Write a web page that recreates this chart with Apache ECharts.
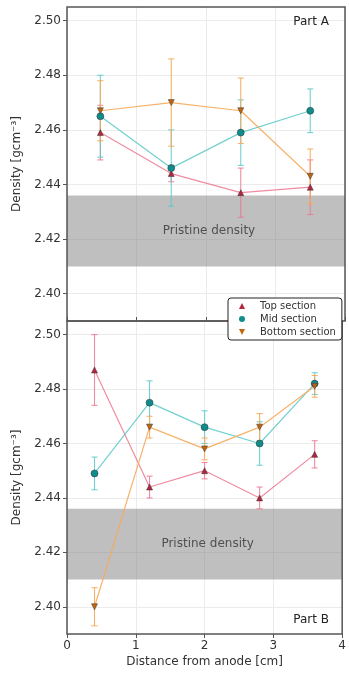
<!DOCTYPE html>
<html>
<head>
<meta charset="utf-8">
<script src="https://cdn.jsdelivr.net/npm/echarts@6/dist/echarts.min.js"></script>
<style>
  html, body { margin: 0; padding: 0; background: #fff; }
  #chart { width: 349px; height: 675px; }
</style>
</head>
<body>
<div id="chart"></div>
<script>
// Part A (top panel)
var partAX = [0.48, 1.5, 2.5, 3.5]
var partATop = [2.459, 2.444, 2.437, 2.439]
var partATopErr = [0.010, 0.003, 0.009, 0.010]
var partAMid = [2.465, 2.446, 2.459, 2.467]
var partAMidErr = [0.015, 0.014, 0.012, 0.008]
var partABot = [2.467, 2.470, 2.467, 2.443]
var partABotErr = [0.011, 0.016, 0.012, 0.010]

// Part B (bottom panel)
var partBX = [0.4, 1.2, 2.0, 2.8, 3.6]
var partBTop = [2.487, 2.444, 2.450, 2.440, 2.456]
var partBTopErr = [0.013, 0.004, 0.003, 0.004, 0.005]
var partBMid = [2.449, 2.475, 2.466, 2.460, 2.482]
var partBMidErr = [0.006, 0.008, 0.006, 0.008, 0.004]
var partBBot = [2.400, 2.466, 2.458, 2.466, 2.481]
var partBBotErr = [0.007, 0.004, 0.004, 0.005, 0.004]

var pristineBand = [2.410, 2.436]
var yTicks = [2.40, 2.42, 2.44, 2.46, 2.48, 2.50]

var FONT = 'DejaVu Sans'
var sections = [
  { name: 'Top section', marker: '#b3263f', line: 'rgba(236,120,145,0.85)', symbol: 'triangle', rotate: 0 },
  { name: 'Mid section', marker: '#0f8c8c', line: 'rgba(90,200,200,0.85)', symbol: 'circle', rotate: 0 },
  { name: 'Bottom section', marker: '#c2650f', line: 'rgba(246,170,90,0.9)', symbol: 'triangle', rotate: 180 }
]

function pairs(xs, ys) {
  return xs.map(function(x, i) { return [x, ys[i]] })
}
function errPairs(xs, ys, es) {
  return xs.map(function(x, i) { return [x, ys[i] - es[i], ys[i] + es[i]] })
}

function errorSeries(idx, sec, data) {
  return {
    type: 'custom',
    xAxisIndex: idx,
    yAxisIndex: idx,
    z: 2,
    silent: true,
    encode: { x: 0, y: [1, 2] },
    data: data,
    renderItem: function(params, api) {
      var x = api.value(0)
      var lo = api.coord([x, api.value(1)])
      var hi = api.coord([x, api.value(2)])
      var w = 3
      var st = { stroke: sec.line, lineWidth: 1.1 }
      return {
        type: 'group',
        children: [
          { type: 'line', shape: { x1: lo[0], y1: lo[1], x2: hi[0], y2: hi[1] }, style: st },
          { type: 'line', shape: { x1: lo[0] - w, y1: lo[1], x2: lo[0] + w, y2: lo[1] }, style: st },
          { type: 'line', shape: { x1: hi[0] - w, y1: hi[1], x2: hi[0] + w, y2: hi[1] }, style: st }
        ]
      }
    }
  }
}

function lineSeries(idx, sec, data, band) {
  var s = {
    name: sec.name,
    type: 'line',
    xAxisIndex: idx,
    yAxisIndex: idx,
    z: 3,
    data: data,
    symbol: sec.symbol,
    symbolRotate: sec.rotate,
    symbolSize: sec.symbol === 'circle' ? 7 : 6,
    showAllSymbol: true,
    lineStyle: { color: sec.line, width: 1.2 },
    itemStyle: { color: sec.marker, borderColor: '#333', borderWidth: 0.5 }
  }
  if (band) {
    s.markArea = {
      silent: true,
      itemStyle: { color: 'rgba(128,128,128,0.5)' },
      label: {
        show: true,
        position: 'inside',
        color: '#505050',
        fontFamily: FONT,
        fontSize: 12,
        offset: [3, 0]
      },
      data: [[{ yAxis: pristineBand[0], name: 'Pristine density' }, { yAxis: pristineBand[1] }]]
    }
  }
  return s
}

var series = []
var partA = [
  [partATop, partATopErr], [partAMid, partAMidErr], [partABot, partABotErr]
]
var partB = [
  [partBTop, partBTopErr], [partBMid, partBMidErr], [partBBot, partBBotErr]
]
partA.forEach(function(d, i) {
  series.push(errorSeries(0, sections[i], errPairs(partAX, d[0], d[1])))
})
partB.forEach(function(d, i) {
  series.push(errorSeries(1, sections[i], errPairs(partBX, d[0], d[1])))
})
partA.forEach(function(d, i) {
  series.push(lineSeries(0, sections[i], pairs(partAX, d[0]), i === 0))
})
partB.forEach(function(d, i) {
  series.push(lineSeries(1, sections[i], pairs(partBX, d[0]), i === 0))
})

function yAxisOpt(idx) {
  return {
    type: 'value',
    gridIndex: idx,
    min: 2.39,
    max: 2.505,
    name: 'Density [gcm⁻³]',
    nameLocation: 'middle',
    nameGap: 44,
    nameTextStyle: { fontFamily: FONT, fontSize: 12, color: '#333' },
    axisLine: { show: false },
    axisTick: { show: true, length: 4, customValues: yTicks, lineStyle: { color: '#555' } },
    axisLabel: {
      customValues: yTicks,
      fontFamily: FONT, fontSize: 12, color: '#333', margin: 6,
      formatter: function(v) { return v.toFixed(2) }
    },
    splitLine: { show: true, lineStyle: { color: '#ebebeb', width: 1 } }
  }
}

function xAxisOpt(idx) {
  var bottom = idx === 1
  return {
    type: 'value',
    gridIndex: idx,
    min: 0,
    max: 4,
    interval: 1,
    name: bottom ? 'Distance from anode [cm]' : '',
    nameLocation: 'middle',
    nameGap: 22,
    nameTextStyle: { fontFamily: FONT, fontSize: 12, color: '#333' },
    axisLine: { show: false },
    axisTick: { show: true, length: 4, inside: !bottom, lineStyle: { color: '#555' } },
    axisLabel: {
      show: bottom,
      fontFamily: FONT, fontSize: 12, color: '#333', margin: 6
    },
    splitLine: { show: true, lineStyle: { color: '#ebebeb', width: 1 } }
  }
}

var myChart = echarts.init(document.getElementById('chart'))
var option = {
  animation: false,
  backgroundColor: '#fff',
  grid: [
    { left: 67, right: 4, top: 7, height: 314, show: true, borderColor: '#555', borderWidth: 1.5, backgroundColor: 'transparent', z: 5 },
    { left: 67, right: 4, top: 321, height: 313, show: true, borderColor: '#555', borderWidth: 1.5, backgroundColor: 'transparent', z: 5 }
  ],
  xAxis: [xAxisOpt(0), xAxisOpt(1)],
  yAxis: [yAxisOpt(0), yAxisOpt(1)],
  legend: {
    left: 228,
    top: 298,
    orient: 'vertical',
    z: 10,
    itemWidth: 6,
    itemHeight: 6,
    itemGap: 3,
    padding: [3, 6, 3, 11],
    backgroundColor: '#fff',
    borderColor: '#222',
    borderWidth: 1,
    borderRadius: 3,
    itemStyle: { borderWidth: 0 },
    textStyle: { fontFamily: FONT, fontSize: 10, color: '#333', padding: [0, 0, 0, 10] },
    data: [
      { name: 'Top section', icon: 'triangle' },
      { name: 'Mid section', icon: 'circle' },
      { name: 'Bottom section', icon: 'path://M0,0 L10,0 L5,10 Z' }
    ]
  },
  graphic: [
    { type: 'text', right: 20, top: 16, z: 10, style: { text: 'Part A', fontFamily: FONT, fontSize: 12, fill: '#222' } },
    { type: 'text', right: 20, top: 614, z: 10, style: { text: 'Part B', fontFamily: FONT, fontSize: 12, fill: '#222' } }
  ],
  series: series
}
myChart.setOption(option)
</script>
</body>
</html>
